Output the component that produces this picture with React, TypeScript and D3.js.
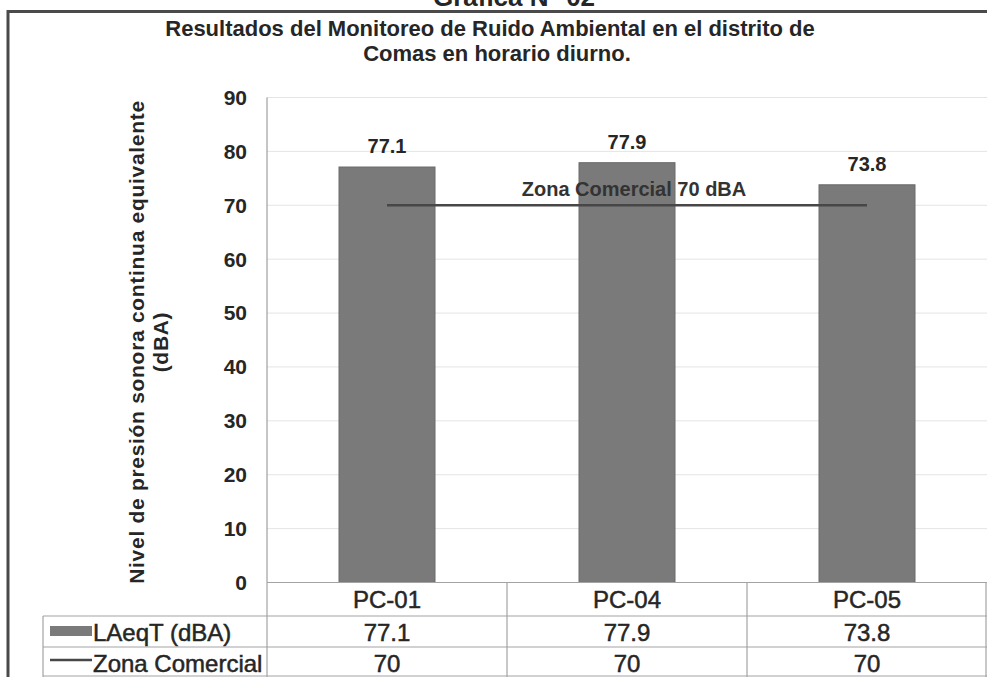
import * as d3 from "d3";

const categories = ["PC-01", "PC-04", "PC-05"];
const laeqValues = [77.1, 77.9, 73.8];
const zonaValues = [70, 70, 70];
const yTicks = [0, 10, 20, 30, 40, 50, 60, 70, 80, 90];

const W = 987;
const H = 677;
const PLOT = { left: 267, right: 987, top: 97.5, bottom: 582.5 };
const ROWS = [582.5, 616, 647, 676];
const LEG_LEFT = 43;

const BAR = "#7a7a7a";
const LINE = "#474747";
const GRID = "#e4e4e4";
const TABLE = "#a3a3a3";
const TEXT = "#262626";
const SANS = "'Liberation Sans', Arial, sans-serif";

export default function App() {
  const x = d3
    .scaleBand<string>()
    .domain(categories)
    .range([PLOT.left, PLOT.right])
    .paddingInner(0.6)
    .paddingOuter(0.3);
  const step = x.step();
  const center = (c: string) => x(c)! + x.bandwidth() / 2;

  const y = d3.scaleLinear().domain([0, 90]).range([PLOT.bottom, PLOT.top]);

  const zonaLine = d3
    .line<number>()
    .x((_, i) => center(categories[i]))
    .y((d) => y(d));

  const cellX = (i: number) => PLOT.left + step * i;

  return (
    <svg
      width={W}
      height={H}
      style={{ position: "fixed", left: 0, top: 0, background: "#fff" }}
    >
      {/* page heading, cut at the top edge as in the scan */}
      <text
        x={514}
        y={6}
        textAnchor="middle"
        fontFamily={SANS}
        fontWeight="bold"
        fontSize={26}
        fill={TEXT}
      >
        Gráfica N° 02
      </text>

      {/* frame */}
      <line x1={8} x2={W} y1={11.5} y2={11.5} stroke="#4a4a4a" strokeWidth={3} />
      <line x1={8} x2={8} y1={10} y2={H} stroke="#4a4a4a" strokeWidth={3} />

      {/* chart title */}
      <g fontFamily={SANS} fontWeight="bold" fontSize={22} fill={TEXT} textAnchor="middle">
        <text x={490} y={36}>
          Resultados del Monitoreo de Ruido Ambiental en el distrito de
        </text>
        <text x={497} y={61}>
          Comas en horario diurno.
        </text>
      </g>

      {/* gridlines */}
      {yTicks
        .filter((t) => t > 0)
        .map((t) => (
          <line
            key={t}
            x1={PLOT.left}
            x2={PLOT.right}
            y1={y(t)}
            y2={y(t)}
            stroke={GRID}
            strokeWidth={1}
          />
        ))}

      {/* y tick labels */}
      <g fontFamily={SANS} fontWeight="bold" fontSize={21} fill={TEXT} textAnchor="end">
        {yTicks.map((t) => (
          <text key={t} x={247} y={y(t)} dy="0.35em">
            {t}
          </text>
        ))}
      </g>

      {/* y axis title */}
      <g
        fontFamily={SANS}
        fontWeight="bold"
        fontSize={21}
        letterSpacing={0.7}
        fill={TEXT}
        textAnchor="middle"
      >
        <text transform="translate(144,342) rotate(-90)">
          Nivel de presión sonora continua equivalente
        </text>
        <text transform="translate(168,342) rotate(-90)">(dBA)</text>
      </g>

      {/* bars */}
      {categories.map((c, i) => (
        <rect
          key={c}
          x={x(c)}
          y={y(laeqValues[i])}
          width={x.bandwidth()}
          height={y(0) - y(laeqValues[i])}
          fill={BAR}
          stroke="#6a6a6a"
          strokeWidth={1}
        />
      ))}

      {/* value labels */}
      <g fontFamily={SANS} fontWeight="bold" fontSize={20} fill={TEXT} textAnchor="middle">
        {categories.map((c, i) => (
          <text key={c} x={center(c)} y={y(laeqValues[i]) - 14}>
            {laeqValues[i]}
          </text>
        ))}
      </g>

      {/* Zona Comercial line */}
      <path d={zonaLine(zonaValues)!} fill="none" stroke={LINE} strokeWidth={2.5} />
      <text
        x={center(categories[1]) + 7}
        y={y(zonaValues[1]) - 9}
        textAnchor="middle"
        fontFamily={SANS}
        fontWeight="bold"
        fontSize={20}
        fill="#333"
      >
        Zona Comercial 70 dBA
      </text>

      {/* y axis */}
      <line
        x1={PLOT.left}
        x2={PLOT.left}
        y1={PLOT.top}
        y2={PLOT.bottom}
        stroke="#8c8c8c"
        strokeWidth={1}
      />

      {/* data table */}
      <g stroke={TABLE} strokeWidth={1.2}>
        <line x1={PLOT.left} x2={PLOT.right} y1={ROWS[0]} y2={ROWS[0]} />
        {ROWS.slice(1).map((r) => (
          <line key={r} x1={LEG_LEFT} x2={PLOT.right} y1={r} y2={r} />
        ))}
        {categories.map((c, i) => (
          <line key={c} x1={cellX(i)} x2={cellX(i)} y1={ROWS[0]} y2={H} />
        ))}
        <line x1={PLOT.right - 1} x2={PLOT.right - 1} y1={ROWS[0]} y2={H} />
        <line x1={LEG_LEFT} x2={LEG_LEFT} y1={ROWS[1]} y2={H} />
      </g>

      <g
        fontFamily={SANS}
        fontSize={24}
        fill={TEXT}
        stroke={TEXT}
        strokeWidth={0.5}
        textAnchor="middle"
      >
        {categories.map((c, i) => (
          <g key={c}>
            <text x={center(c)} y={ROWS[0] + 25}>
              {c}
            </text>
            <text x={center(c)} y={ROWS[1] + 25}>
              {laeqValues[i]}
            </text>
            <text x={center(c)} y={ROWS[2] + 25}>
              {zonaValues[i]}
            </text>
          </g>
        ))}
      </g>

      {/* legend keys */}
      <rect x={50} y={626} width={42} height={10} fill={BAR} />
      <line x1={50} x2={92} y1={660} y2={660} stroke={LINE} strokeWidth={2.5} />
      <g fontFamily={SANS} fontSize={24} fill={TEXT} stroke={TEXT} strokeWidth={0.5}>
        <text x={93} y={ROWS[1] + 25}>
          LAeqT (dBA)
        </text>
        <text x={93} y={ROWS[2] + 25}>
          Zona Comercial
        </text>
      </g>
    </svg>
  );
}
